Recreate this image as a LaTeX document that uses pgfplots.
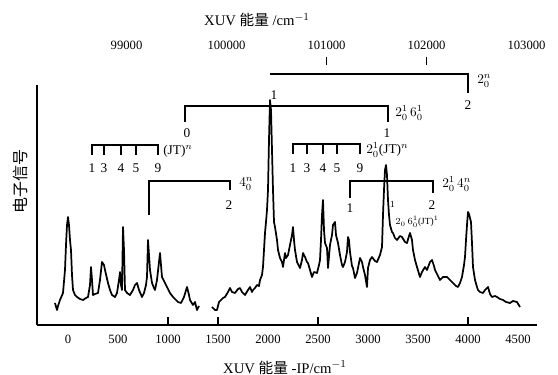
\documentclass[border=0pt]{standalone}
\usepackage{fontspec}
\setmainfont{Liberation Serif}
\newfontfamily\cjk{Noto Sans CJK SC}
\usepackage{pgfplots}
\usepackage{pgfplotstable}
\pgfplotsset{compat=1.18}
\tikzset{ann/.style={line width=0.8pt}, lab/.style={font=\fontsize{10}{11}\selectfont, inner sep=0pt}}

\pgfplotstableread{
x y
-130 22
-110 15
-100 19
-80 25
-50 32
-30 55
-20 80
-10 100
0 108
10 100
20 85
30 75
40 50
50 35
70 30
90 28
120 26
150 25
180 27
200 28
220 40
230 58
240 45
250 30
270 31
300 32
320 45
340 63
360 60
370 55
400 42
420 35
440 30
470 28
490 32
510 45
520 53
530 40
540 35
550 98
560 75
570 35
590 32
620 30
650 35
670 40
690 42
710 35
740 28
760 32
780 40
790 48
800 85
810 70
820 55
840 42
860 37
870 35
890 45
910 63
920 72
930 60
940 48
970 42
990 38
1020 32
1050 28
1080 25
1100 23
1130 22
1160 28
1190 38
1210 30
1220 25
1250 20
1270 23
1290 15
1310 19
1370 nan
1440 18
1470 15
1490 15
1510 23
1530 25
1550 27
1570 28
1600 33
1620 37
1640 33
1670 32
1700 36
1720 37
1740 33
1770 30
1800 35
1820 38
1840 33
1850 35
1870 37
1890 40
1910 39
1920 45
1940 50
1950 58
1960 75
1970 92
1980 103
1990 115
2000 135
2010 185
2020 225
2030 215
2040 175
2050 135
2060 103
2070 98
2090 85
2100 75
2120 67
2140 63
2150 58
2170 72
2180 67
2200 70
2220 80
2240 90
2250 98
2260 85
2270 75
2290 63
2320 57
2340 65
2350 72
2370 68
2390 63
2400 62
2420 55
2440 48
2460 53
2490 52
2510 60
2520 65
2530 85
2540 110
2550 125
2560 95
2570 82
2590 77
2600 57
2620 80
2640 90
2650 100
2670 103
2680 90
2700 82
2720 70
2740 60
2750 58
2770 63
2790 73
2800 88
2810 85
2820 73
2840 59
2850 57
2870 47
2890 52
2920 67
2940 63
2950 58
2970 50
2990 38
3000 57
3020 65
3040 68
3070 64
3090 63
3120 70
3140 78
3150 110
3160 135
3170 155
3180 160
3190 150
3200 125
3210 110
3220 100
3240 93
3250 92
3270 87
3290 85
3320 89
3340 88
3370 83
3390 82
3410 89
3420 92
3440 85
3450 75
3470 65
3490 58
3520 48
3540 53
3570 58
3590 55
3620 63
3640 65
3660 59
3670 55
3700 49
3720 45
3750 48
3790 48
3820 45
3850 42
3880 39
3900 38
3920 42
3940 48
3960 60
3970 68
3980 85
3990 100
4000 113
4010 111
4020 107
4030 103
4040 82
4050 58
4070 45
4090 38
4100 35
4120 33
4150 32
4170 35
4200 38
4220 31
4240 28
4270 29
4290 28
4320 26
4350 25
4380 23
4420 22
4450 24
4490 23
4520 18
}\spec

\begin{document}
\begin{tikzpicture}[x=1pt,y=1pt]
\useasboundingbox (0,0) rectangle (418.5,281.25);
\begin{axis}[
  at={(27.75pt,37.5pt)}, anchor=south west,
  width=375pt, height=195pt, scale only axis,
  xmin=-310, xmax=4690, ymin=0, ymax=260,
  axis line style={draw=none},
  ytick=\empty,
  xtick={0,500,...,4500},
  xtick pos=bottom,
  major tick length=0pt,
  extra x ticks={1000,1500,2500,4000},
  extra x tick labels={},
  extra x tick style={major tick length=6pt, tick align=inside, tick style={line width=0.8pt, black}},
  xticklabel style={font=\fontsize{9.5}{10}\selectfont, yshift=-4pt},
  /pgf/number format/assume math mode=true,
  /pgf/number format/1000 sep={},
  unbounded coords=jump,
  clip=false,
]
\addplot[black, line width=1.3pt, line join=round, mark=none] table {\spec};
\draw[line width=0.8pt] (axis cs:-310,0) -- (axis cs:4690,0);
\draw[line width=0.8pt] (axis cs:-310,0) -- (axis cs:-310,240);
% 2_0^n
\draw[ann] (axis cs:2020,251) -- (axis cs:4000,251) -- (axis cs:4000,232);
\node[lab] at (axis cs:4000,220) {2};
\node[lab] at (axis cs:2060,230) {1};
\node[lab, anchor=west] at (axis cs:4090,244) {$2_0^n$};
% 2_0^1 6_0^1
\draw[ann] (axis cs:1170,203) -- (axis cs:1170,219) -- (axis cs:3200,219) -- (axis cs:3200,203);
\node[lab] at (axis cs:1190,192) {0};
\node[lab] at (axis cs:3190,192) {1};
\node[lab, anchor=west] at (axis cs:3270,212) {$2_0^1\,6_0^1$};
% (JT)^n left
\draw[ann] (axis cs:240,170) -- (axis cs:240,180) -- (axis cs:900,180) -- (axis cs:900,170);
\draw[ann] (axis cs:360,180) -- (axis cs:360,170);
\draw[ann] (axis cs:530,180) -- (axis cs:530,170);
\draw[ann] (axis cs:680,180) -- (axis cs:680,170);
\node[lab] at (axis cs:240,157) {1};
\node[lab] at (axis cs:360,157) {3};
\node[lab] at (axis cs:530,157) {4};
\node[lab] at (axis cs:680,157) {5};
\node[lab] at (axis cs:900,157) {9};
\node[lab, anchor=west] at (axis cs:950,174) {(JT)$^n$};
% 2_0^1 (JT)^n right
\draw[ann] (axis cs:2250,171) -- (axis cs:2250,181) -- (axis cs:2920,181) -- (axis cs:2920,171);
\draw[ann] (axis cs:2390,181) -- (axis cs:2390,171);
\draw[ann] (axis cs:2550,181) -- (axis cs:2550,171);
\draw[ann] (axis cs:2690,181) -- (axis cs:2690,171);
\node[lab] at (axis cs:2250,157) {1};
\node[lab] at (axis cs:2390,157) {3};
\node[lab] at (axis cs:2550,157) {4};
\node[lab] at (axis cs:2690,157) {5};
\node[lab] at (axis cs:2920,157) {9};
\node[lab, anchor=west] at (axis cs:2980,175) {$2_0^1$(JT)$^n$};
% 4_0^n
\draw[ann] (axis cs:810,110) -- (axis cs:810,144) -- (axis cs:1620,144) -- (axis cs:1620,135);
\node[lab] at (axis cs:1610,120) {2};
\node[lab, anchor=west] at (axis cs:1710,141) {$4_0^n$};
% 2_0^1 4_0^n
\draw[ann] (axis cs:2820,127) -- (axis cs:2820,144) -- (axis cs:3650,144) -- (axis cs:3650,132);
\node[lab] at (axis cs:2820,117) {1};
\node[lab] at (axis cs:3640,120) {2};
\node[lab, anchor=west] at (axis cs:3740,141) {$2_0^1\,4_0^n$};
% small label
\node[lab, font=\fontsize{7}{8}\selectfont] at (axis cs:3245,121) {1};
\node[lab, anchor=west, font=\fontsize{7}{8}\selectfont] at (axis cs:3270,103) {$2_0\,6_0^1$(JT)$^1$};
% axis titles
\node[font=\fontsize{11}{12}\selectfont] at (axis cs:2170,0) [yshift=-32pt] {XUV {\cjk 能量} -IP/cm$^{-1}$};
\node[font=\fontsize{11}{12}\selectfont] at (axis cs:1890,305) {XUV {\cjk 能量} /cm$^{-1}$};
\node[font=\fontsize{12}{13}\selectfont\cjk, rotate=90] at (axis cs:-480,143) {电子信号};
\end{axis}
\begin{axis}[
  at={(27.75pt,37.5pt)}, anchor=south west,
  width=375pt, height=195pt, scale only axis,
  xmin=98105, xmax=103105, ymin=0, ymax=1,
  axis line style={draw=none},
  ytick=\empty,
  xtick={99000,100000,101000,102000,103000},
  xticklabels={99000,100000,101000,102000,103000},
  scaled x ticks=false,
  xtick pos=top, xticklabel pos=top,
  major tick length=0pt,
  extra x ticks={101000,102000},
  extra x tick labels={},
  extra x tick style={major tick length=6pt, tick align=outside, tick style={line width=0.8pt, black}},
  xticklabel style={font=\fontsize{9.5}{10}\selectfont, yshift=8pt},
]
\end{axis}
\end{tikzpicture}
\end{document}
